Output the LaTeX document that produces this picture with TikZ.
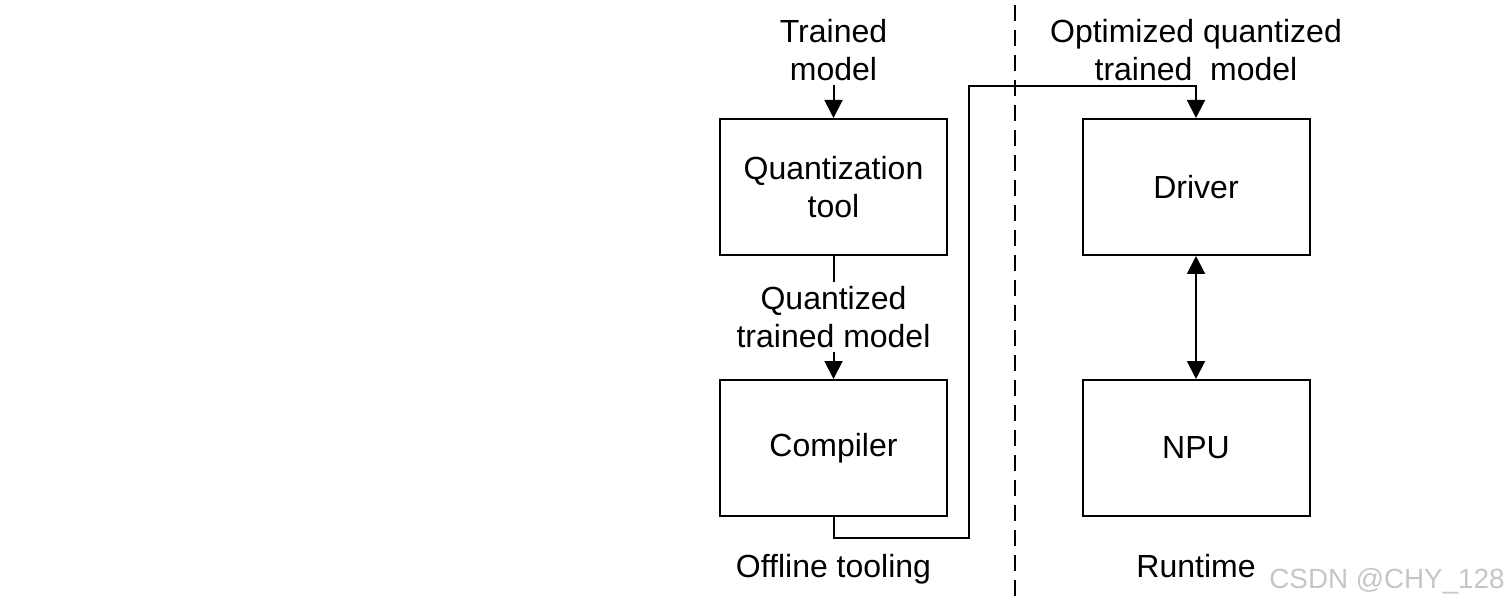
\documentclass[tikz,border=0pt]{standalone}
\usepackage{fontspec}
\setmainfont{Liberation Sans}
\usetikzlibrary{arrows.meta, positioning}

\begin{document}
\begin{tikzpicture}[
    x=0.5pt, y=-0.5pt,
    box/.style={draw, line width=1pt, minimum width=113.5pt, minimum height=68pt,
                align=center, font=\fontsize{16}{19}\selectfont},
    lbl/.style={align=center, inner sep=2pt, font=\fontsize{16}{19}\selectfont},
    conn/.style={line width=1pt},
    >={Triangle[width=9pt, length=9pt]}
  ]
  \useasboundingbox (0,0) rectangle (1509,609);

  % Offline tooling
  \node[lbl] (trained) at (833.5, 50) {Trained\\model};
  \node[box] (qtool) at (833.5, 187) {Quantization\\tool};
  \node[lbl] (quantized) at (833.5, 317) {Quantized\\trained model};
  \node[box] (compiler) at (833.5, 448) {Compiler};
  \node[lbl, anchor=base] (offline) at (833.5, 577) {Offline tooling};

  % Runtime
  \node[lbl] (optimized) at (1196, 50) {Optimized quantized\\trained~~model};
  \node[box] (driver) at (1196, 187) {Driver};
  \node[box] (npu) at (1196, 448) {NPU};
  \node[lbl, anchor=base] (runtime) at (1196, 577) {Runtime};

  % separator
  \coordinate (sep top) at (1015, 5);
  \coordinate (sep bot) at (1015, 600);
  \draw[line width=1pt, dash pattern=on 8pt off 4.5pt] (sep top) -- (sep bot);

  % connectors
  \coordinate (low bend) at (969, 538);
  \coordinate (high bend) at (1196, 86);
  \draw[conn, ->] (trained) -- (qtool);
  \draw[conn] (qtool) -- (quantized);
  \draw[conn, ->] (quantized) -- (compiler);
  \draw[conn, ->] (compiler.south) |- (low bend) |- (high bend) -- (driver.north);
  \draw[conn, <->] (driver) -- (npu);

  \node[text=gray!45, font=\fontsize{13.9}{16}\selectfont] (mark) at (1387, 581) {CSDN @CHY\_128};
\end{tikzpicture}
\end{document}
